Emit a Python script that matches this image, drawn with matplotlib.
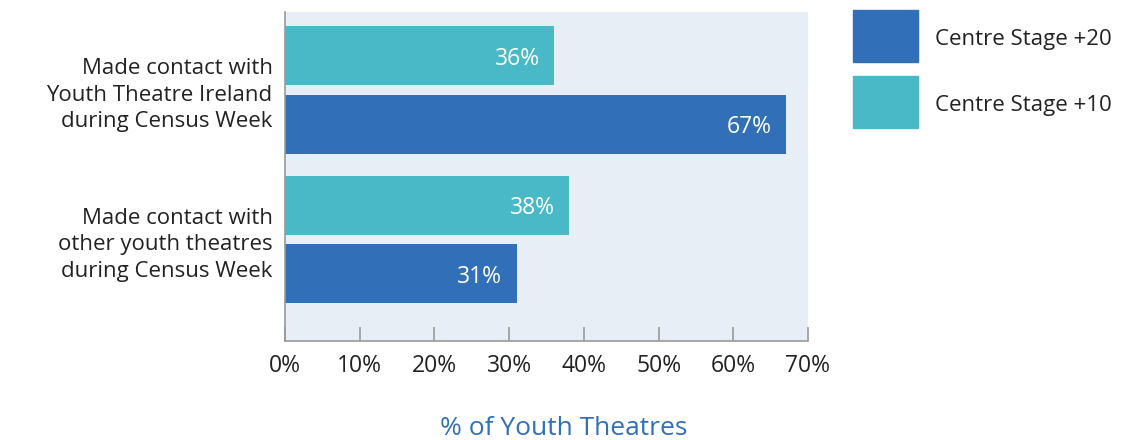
import numpy as np
import matplotlib
matplotlib.use("Agg")
import matplotlib.pyplot as plt
from matplotlib.patches import Rectangle

plt.rcParams["font.family"] = ["Open Sans", "DejaVu Sans"]

categories = [
    "Made contact with\nYouth Theatre Ireland\nduring Census Week",
    "Made contact with\nother youth theatres\nduring Census Week",
]
series = ["Centre Stage +20", "Centre Stage +10"]
stage20 = [67, 31]
stage10 = [36, 38]
xticks = [0, 10, 20, 30, 40, 50, 60, 70]

DARK = "#3170B8"
TEAL = "#4AB9C7"
BG = "#E8EEF6"
TXT = "#222222"

fig = plt.figure(figsize=(11.42, 4.40), dpi=100)
ax = fig.add_axes([285 / 1142, 1 - 341 / 440, (808 - 285) / 1142, 329 / 440])
ax.set_facecolor(BG)

y = np.arange(len(categories))
h = 0.395
off = 0.229
ax.barh(y - off, stage10, height=h, color=TEAL)
ax.barh(y + off, stage20, height=h, color=DARK)

for yi, v in zip(y - off, stage10):
    ax.text(v - 1.9, yi, f"{v}%", ha="right", va="center_baseline", color="white", fontsize=16.5)
for yi, v in zip(y + off, stage20):
    ax.text(v - 1.9, yi, f"{v}%", ha="right", va="center_baseline", color="white", fontsize=16.5)

ax.set_xlim(0, 70)
ax.set_ylim(1.679, -0.522)
ax.set_xticks(xticks)
ax.set_xticklabels([f"{t}%" for t in xticks], fontsize=16.5, color=TXT)
ax.tick_params(axis="x", direction="in", length=10, width=1.2, color="#999999", pad=9)
ax.set_yticks(y)
ax.set_yticklabels(categories, fontsize=16, color=TXT, linespacing=1.35)
ax.tick_params(axis="y", length=0, pad=9)

for s in ["top", "right"]:
    ax.spines[s].set_visible(False)
for s in ["left", "bottom"]:
    ax.spines[s].set_color("#999999")
    ax.spines[s].set_linewidth(1.2)

fig.text(564 / 1142, 1 - 428 / 440, "% of Youth Theatres", ha="center", va="center",
         fontsize=19, color=DARK)

# legend drawn as figure-level swatches
for i, (name, col) in enumerate(zip(series, [DARK, TEAL])):
    top = 10 + i * 66
    fig.add_artist(Rectangle((853 / 1142, 1 - (top + 52) / 440), 65 / 1142, 52 / 440,
                             transform=fig.transFigure, color=col))
    fig.text(935 / 1142, 1 - (top + 29) / 440, name, ha="left", va="center",
             fontsize=16, color=TXT)

fig.savefig("out.png", dpi=100)
